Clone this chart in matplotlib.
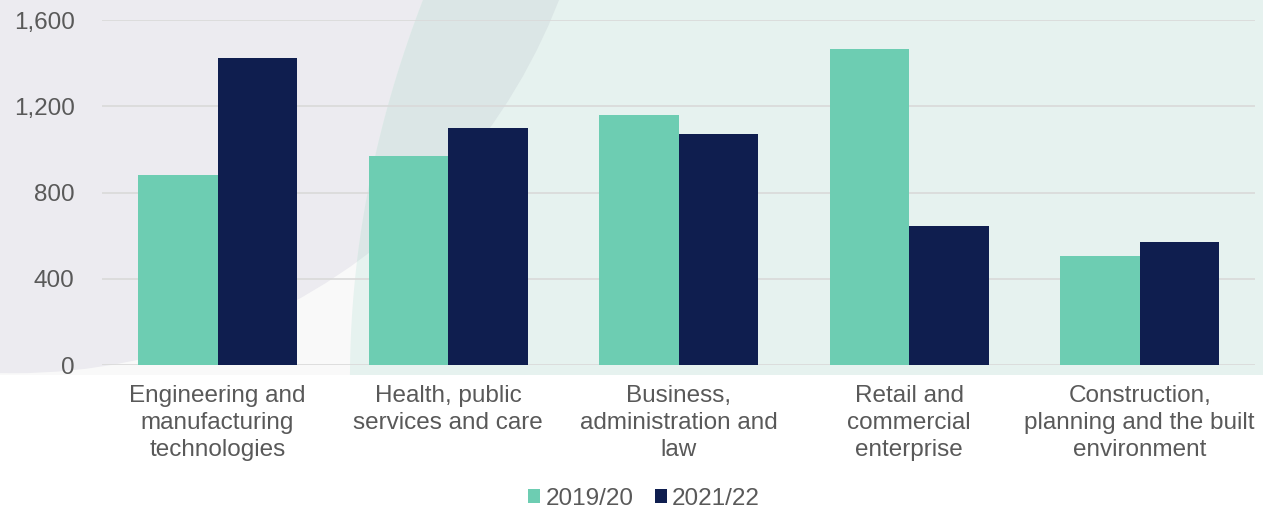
import numpy as np
import matplotlib
matplotlib.use("Agg")
import matplotlib.pyplot as plt
from matplotlib.patches import Rectangle, Circle, Polygon, Patch

plt.rcParams['font.family'] = ['Liberation Sans', 'DejaVu Sans']

categories = [
    "Engineering and\nmanufacturing\ntechnologies",
    "Health, public\nservices and care",
    "Business,\nadministration and\nlaw",
    "Retail and\ncommercial\nenterprise",
    "Construction,\nplanning and the built\nenvironment",
]
series_names = ["2019/20", "2021/22"]
values_1920 = [880, 970, 1158, 1467, 507]
values_2122 = [1426, 1101, 1073, 646, 572]
y_ticks = [0, 400, 800, 1200, 1600]

TEAL = "#6DCDB2"
NAVY = "#0F1E4F"
TXT = "#595959"
FS = 17.5

W, H = 1263, 513
fig = plt.figure(figsize=(W / 100, H / 100), dpi=100)

# ---- decorative background (pixel coordinates) ----
bg = fig.add_axes([0, 0, 1, 1], zorder=-5)
bg.set_xlim(0, W)
bg.set_ylim(H, 0)
bg.axis("off")
BG_BOTTOM = 375
rect = Rectangle((0, 0), W, BG_BOTTOM, facecolor="#F9F9F9", edgecolor="none")
bg.add_patch(rect)
circ = Circle((13.7, -211.8), 585, facecolor="#ECEBF0", edgecolor="none")
bg.add_patch(circ)
circ.set_clip_path(rect)
ys = np.linspace(0, BG_BOTTOM, 60)
xs = 423 - 0.3856 * ys + 0.000509 * ys ** 2
poly_pts = list(zip(xs, ys)) + [(W, BG_BOTTOM), (W, 0)]
tealpoly = Polygon(poly_pts, closed=True, facecolor="#E6F2EF", edgecolor="none")
bg.add_patch(tealpoly)
circ2 = Circle((13.7, -211.8), 585, facecolor="none", edgecolor="none")
bg.add_patch(circ2)
darkpoly = Polygon(poly_pts, closed=True, facecolor="#DBE6E6", edgecolor="none")
bg.add_patch(darkpoly)
darkpoly.set_clip_path(circ2)

# ---- main chart ----
left = 102.3 / W
right = 1255 / W
bottom = (H - 365.3) / H
top = (H - 20) / H
ax = fig.add_axes([left, bottom, right - left, top - bottom])
ax.set_facecolor("none")

x = np.arange(len(categories))
bw = 0.345
ax.bar(x - bw / 2, values_1920, bw, color=TEAL, zorder=3, label=series_names[0])
ax.bar(x + bw / 2, values_2122, bw, color=NAVY, zorder=3, label=series_names[1])

ax.set_xlim(-0.5, len(categories) - 0.5)
ax.set_ylim(0, 1600)
ax.set_yticks(y_ticks)
ax.set_yticklabels([f"{v:,}" for v in y_ticks])
ax.yaxis.grid(True, color="#D9D9D9", linewidth=1.2, zorder=0)
ax.set_axisbelow(True)
for s in ax.spines.values():
    s.set_visible(False)
ax.set_xticks(x)
ax.set_xticklabels(categories, linespacing=1.28)
ax.tick_params(axis="both", length=0, labelsize=FS, labelcolor=TXT)
ax.tick_params(axis="y", pad=20)
ax.tick_params(axis="x", pad=14.5)

handles = [Patch(facecolor=TEAL, edgecolor="none"), Patch(facecolor=NAVY, edgecolor="none")]
leg = fig.legend(handles, series_names, loc="center", bbox_to_anchor=(0.510, (H - 499) / H),
                 ncol=2, frameon=False, fontsize=FS, handlelength=0.5, handleheight=0.5,
                 handletextpad=0.2, columnspacing=0.9, borderaxespad=0)
for t in leg.get_texts():
    t.set_color(TXT)

fig.savefig("out.png", dpi=100)
